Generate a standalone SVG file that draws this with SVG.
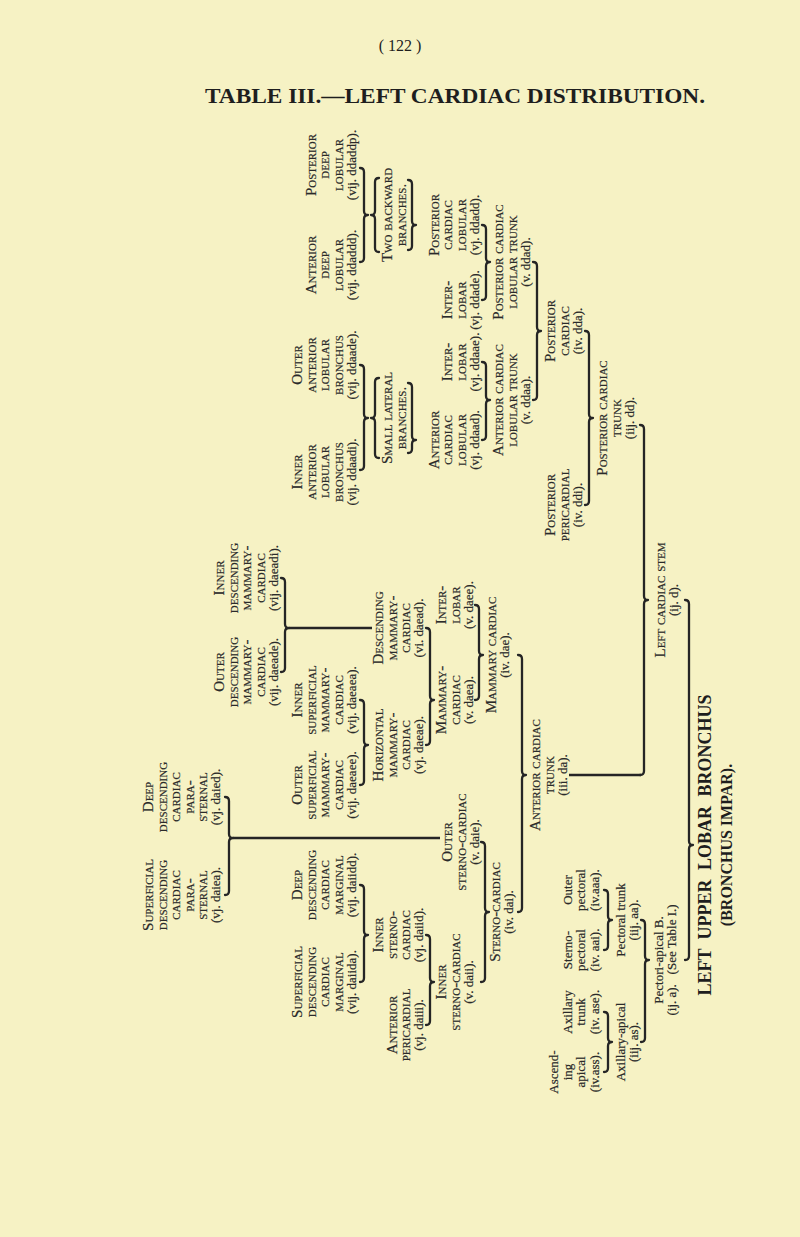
<svg xmlns="http://www.w3.org/2000/svg" width="800" height="1237" viewBox="0 0 800 1237">
<style>
.bg{fill:#f6f2c4}
.t{font-family:"Liberation Serif","Times New Roman",serif;font-size:13px;fill:#2a2a2a;stroke:#2a2a2a;stroke-width:0.2;text-anchor:middle;dominant-baseline:central}
.sc{font-variant:small-caps;font-size:15px}
.br{fill:none;stroke:#252525;stroke-width:2.3;stroke-linecap:round;stroke-linejoin:round}
.ln{fill:none;stroke:#252525;stroke-width:2.6}
.hd{font-family:"Liberation Serif","Times New Roman",serif;font-weight:bold;fill:#1e1e1e;text-anchor:middle}
.pg{font-family:"Liberation Serif","Times New Roman",serif;font-size:16px;fill:#1e1e1e;text-anchor:middle}
</style>
<rect class="bg" x="0" y="0" width="800" height="1237"/>
<text class="pg" x="400" y="51">( 122 )</text>
<text class="hd" x="455" y="103" font-size="21" textLength="500" lengthAdjust="spacingAndGlyphs">TABLE III.—LEFT CARDIAC DISTRIBUTION.</text>

<g id="connectors">
<path class="br" d="M360,168 Q364,168 364,172 L364,211 Q364,215 368,215 Q364,215 364,219 L364,258 Q364,262 360,262"/>
<path class="br" d="M379,178 Q375,178 375,182 L375,211 Q375,215 371,215 Q375,215 375,219 L375,248 Q375,252 379,252"/>
<path class="br" d="M408,180 Q412,180 412,184 L412,221 Q412,225 416,225 Q412,225 412,229 L412,246 Q412,250 408,250"/>
<path class="br" d="M360,365 Q364,365 364,369 L364,414 Q364,418 368,418 Q364,418 364,422 L364,466 Q364,470 360,470"/>
<path class="br" d="M379,378 Q375,378 375,382 L375,414 Q375,418 371,418 Q375,418 375,422 L375,454 Q375,458 379,458"/>
<path class="br" d="M408,383 Q412,383 412,387 L412,436 Q412,440 416,440 Q412,440 412,444 L412,449 Q412,453 408,453"/>
<path class="br" d="M482,225 Q486,225 486,229 L486,258 Q486,262 490,262 Q486,262 486,266 L486,296 Q486,300 482,300"/>
<path class="br" d="M482,362 Q486,362 486,366 L486,396 Q486,400 490,400 Q486,400 486,404 L486,436 Q486,440 482,440"/>
<path class="br" d="M533,262 Q537,262 537,266 L537,327 Q537,331 541,331 Q537,331 537,335 L537,396 Q537,400 533,400"/>
<path class="br" d="M585,331 Q589,331 589,335 L589,414 Q589,418 593,418 Q589,418 589,422 L589,501 Q589,505 585,505"/>
<path class="br" d="M640,425 Q644,425 644,429 L644,596 Q644,600 648,600 Q644,600 644,604 L644,771 Q644,775 640,775"/>
<path class="ln" d="M569,775 L641,775"/>
<path class="br" d="M281,578 Q285,578 285,582 L285,624 Q285,628 289,628 Q285,628 285,632 L285,668 Q285,672 281,672"/>
<path class="ln" d="M289,628 L372,628"/>
<path class="br" d="M360,700 Q364,700 364,704 L364,741 Q364,745 368,745 Q364,745 364,749 L364,781 Q364,785 360,785"/>
<path class="br" d="M426,628 Q430,628 430,632 L430,696 Q430,700 434,700 Q430,700 430,704 L430,741 Q430,745 426,745"/>
<path class="br" d="M475,605 Q479,605 479,609 L479,651 Q479,655 483,655 Q479,655 479,659 L479,696 Q479,700 475,700"/>
<path class="br" d="M225,797 Q229,797 229,801 L229,834 Q229,838 233,838 Q229,838 229,842 L229,891 Q229,895 225,895"/>
<path class="ln" d="M233,838 L440,838"/>
<path class="br" d="M360,885 Q364,885 364,889 L364,931 Q364,935 368,935 Q364,935 364,939 L364,978 Q364,982 360,982"/>
<path class="br" d="M426,935 Q430,935 430,939 L430,978 Q430,982 434,982 Q430,982 430,986 L430,1021 Q430,1025 426,1025"/>
<path class="br" d="M481,842 Q485,842 485,846 L485,908 Q485,912 489,912 Q485,912 485,916 L485,978 Q485,982 481,982"/>
<path class="br" d="M518,655 Q522,655 522,659 L522,771 Q522,775 526,775 Q522,775 522,779 L522,908 Q522,912 518,912"/>
<path class="br" d="M604,890 Q608,890 608,894 L608,916 Q608,920 612,920 Q608,920 608,924 L608,946 Q608,950 604,950"/>
<path class="br" d="M604,1012 Q608,1012 608,1016 L608,1038 Q608,1042 612,1042 Q608,1042 608,1046 L608,1068 Q608,1072 604,1072"/>
<path class="br" d="M641,920 Q645,920 645,924 L645,956 Q645,960 649,960 Q645,960 645,964 L645,1038 Q645,1042 641,1042"/>
<path class="br" d="M685,600 Q689,600 689,604 L689,841 Q689,845 693,845 Q689,845 689,849 L689,956 Q689,960 685,960"/>
</g>

<g id="n_pdeep">
<text class="t sc" transform="translate(310.5,165) rotate(-90)">Posterior</text>
<text class="t sc" transform="translate(324,165) rotate(-90)">deep</text>
<text class="t sc" transform="translate(337.5,165) rotate(-90)">lobular</text>
<text class="t" transform="translate(351,165) rotate(-90)">(vij. ddaddp).</text>
</g>
<g id="n_adeep">
<text class="t sc" transform="translate(310.5,265) rotate(-90)">Anterior</text>
<text class="t sc" transform="translate(324,265) rotate(-90)">deep</text>
<text class="t sc" transform="translate(337.5,265) rotate(-90)">lobular</text>
<text class="t" transform="translate(351,265) rotate(-90)">(vij. ddaddd).</text>
</g>
<g id="n_outer_alb">
<text class="t sc" transform="translate(297,365) rotate(-90)">Outer</text>
<text class="t sc" transform="translate(310.5,365) rotate(-90)">anterior</text>
<text class="t sc" transform="translate(324,365) rotate(-90)">lobular</text>
<text class="t sc" transform="translate(337.5,365) rotate(-90)">bronchus</text>
<text class="t" transform="translate(351,365) rotate(-90)">(vij. ddaade).</text>
</g>
<g id="n_inner_alb">
<text class="t sc" transform="translate(297,472) rotate(-90)">Inner</text>
<text class="t sc" transform="translate(310.5,472) rotate(-90)">anterior</text>
<text class="t sc" transform="translate(324,472) rotate(-90)">lobular</text>
<text class="t sc" transform="translate(337.5,472) rotate(-90)">bronchus</text>
<text class="t" transform="translate(351,472) rotate(-90)">(vij. ddaadi).</text>
</g>
<g id="n_twoback">
<text class="t sc" transform="translate(387,215) rotate(-90)">Two backward</text>
<text class="t sc" transform="translate(400.5,215) rotate(-90)">branches.</text>
</g>
<g id="n_smalllat">
<text class="t sc" transform="translate(387,418) rotate(-90)">Small lateral</text>
<text class="t sc" transform="translate(400.5,418) rotate(-90)">branches.</text>
</g>
<g id="n_ddadd">
<text class="t sc" transform="translate(433.5,225) rotate(-90)">Posterior</text>
<text class="t sc" transform="translate(447,225) rotate(-90)">cardiac</text>
<text class="t sc" transform="translate(460.5,225) rotate(-90)">lobular</text>
<text class="t" transform="translate(474,225) rotate(-90)">(vj. ddadd).</text>
</g>
<g id="n_ddade">
<text class="t sc" transform="translate(447,300) rotate(-90)">Inter-</text>
<text class="t sc" transform="translate(460.5,300) rotate(-90)">lobar</text>
<text class="t" transform="translate(474,300) rotate(-90)">(vj. ddade).</text>
</g>
<g id="n_ddaae">
<text class="t sc" transform="translate(447,362) rotate(-90)">Inter-</text>
<text class="t sc" transform="translate(460.5,362) rotate(-90)">lobar</text>
<text class="t" transform="translate(474,362) rotate(-90)">(vj. ddaae).</text>
</g>
<g id="n_ddaad">
<text class="t sc" transform="translate(433.5,440) rotate(-90)">Anterior</text>
<text class="t sc" transform="translate(447,440) rotate(-90)">cardiac</text>
<text class="t sc" transform="translate(460.5,440) rotate(-90)">lobular</text>
<text class="t" transform="translate(474,440) rotate(-90)">(vj. ddaad).</text>
</g>
<g id="n_ddad">
<text class="t sc" transform="translate(498,262) rotate(-90)">Posterior cardiac</text>
<text class="t sc" transform="translate(511.5,262) rotate(-90)">lobular trunk</text>
<text class="t" transform="translate(525,262) rotate(-90)">(v. ddad).</text>
</g>
<g id="n_ddaa">
<text class="t sc" transform="translate(498,400) rotate(-90)">Anterior cardiac</text>
<text class="t sc" transform="translate(511.5,400) rotate(-90)">lobular trunk</text>
<text class="t" transform="translate(525,400) rotate(-90)">(v. ddaa).</text>
</g>
<g id="n_dda">
<text class="t sc" transform="translate(550,331) rotate(-90)">Posterior</text>
<text class="t sc" transform="translate(563.5,331) rotate(-90)">cardiac</text>
<text class="t" transform="translate(577,331) rotate(-90)">(iv. dda).</text>
</g>
<g id="n_ddi">
<text class="t sc" transform="translate(550,505) rotate(-90)">Posterior</text>
<text class="t sc" transform="translate(563.5,505) rotate(-90)">pericardial</text>
<text class="t" transform="translate(577,505) rotate(-90)">(iv. ddi).</text>
</g>
<g id="n_dd">
<text class="t sc" transform="translate(602,418) rotate(-90)">Posterior cardiac</text>
<text class="t sc" transform="translate(615.5,418) rotate(-90)">trunk</text>
<text class="t" transform="translate(629,418) rotate(-90)">(iij. dd).</text>
</g>
<g id="n_dstem">
<text class="t sc" transform="translate(660,600) rotate(-90)">Left cardiac stem</text>
<text class="t" transform="translate(673.5,600) rotate(-90)">(ij. d).</text>
</g>

<g id="n_inner_desc">
<text class="t sc" transform="translate(219,578) rotate(-90)">Inner</text>
<text class="t sc" transform="translate(232.5,578) rotate(-90)">descending</text>
<text class="t sc" transform="translate(246,578) rotate(-90)">mammary-</text>
<text class="t sc" transform="translate(259.5,578) rotate(-90)">cardiac</text>
<text class="t" transform="translate(273,578) rotate(-90)">(vij. daeadi).</text>
</g>
<g id="n_outer_desc">
<text class="t sc" transform="translate(219,672) rotate(-90)">Outer</text>
<text class="t sc" transform="translate(232.5,672) rotate(-90)">descending</text>
<text class="t sc" transform="translate(246,672) rotate(-90)">mammary-</text>
<text class="t sc" transform="translate(259.5,672) rotate(-90)">cardiac</text>
<text class="t" transform="translate(273,672) rotate(-90)">(vij. daeade).</text>
</g>
<g id="n_desc_mc">
<text class="t sc" transform="translate(378,628) rotate(-90)">Descending</text>
<text class="t sc" transform="translate(391.5,628) rotate(-90)">mammary-</text>
<text class="t sc" transform="translate(405,628) rotate(-90)">cardiac</text>
<text class="t" transform="translate(418.5,628) rotate(-90)">(vi. daead).</text>
</g>
<g id="n_inner_sup">
<text class="t sc" transform="translate(297,700) rotate(-90)">Inner</text>
<text class="t sc" transform="translate(310.5,700) rotate(-90)">superficial</text>
<text class="t sc" transform="translate(324,700) rotate(-90)">mammary-</text>
<text class="t sc" transform="translate(337.5,700) rotate(-90)">cardiac</text>
<text class="t" transform="translate(351,700) rotate(-90)">(vij. daeaea).</text>
</g>
<g id="n_outer_sup">
<text class="t sc" transform="translate(297,785) rotate(-90)">Outer</text>
<text class="t sc" transform="translate(310.5,785) rotate(-90)">superficial</text>
<text class="t sc" transform="translate(324,785) rotate(-90)">mammary-</text>
<text class="t sc" transform="translate(337.5,785) rotate(-90)">cardiac</text>
<text class="t" transform="translate(351,785) rotate(-90)">(vij. daeaee).</text>
</g>
<g id="n_horiz">
<text class="t sc" transform="translate(378,745) rotate(-90)">Horizontal</text>
<text class="t sc" transform="translate(391.5,745) rotate(-90)">mammary-</text>
<text class="t sc" transform="translate(405,745) rotate(-90)">cardiac</text>
<text class="t" transform="translate(418.5,745) rotate(-90)">(vj. daeae).</text>
</g>
<g id="n_daea">
<text class="t sc" transform="translate(441,700) rotate(-90)">Mammary-</text>
<text class="t sc" transform="translate(454.5,700) rotate(-90)">cardiac</text>
<text class="t" transform="translate(468,700) rotate(-90)">(v. daea).</text>
</g>
<g id="n_daee">
<text class="t sc" transform="translate(441,605) rotate(-90)">Inter-</text>
<text class="t sc" transform="translate(454.5,605) rotate(-90)">lobar</text>
<text class="t" transform="translate(468,605) rotate(-90)">(v. daee).</text>
</g>
<g id="n_dae">
<text class="t sc" transform="translate(491,655) rotate(-90)">Mammary cardiac</text>
<text class="t" transform="translate(504.5,655) rotate(-90)">(iv. dae).</text>
</g>
<g id="n_deep_para">
<text class="t sc" transform="translate(148,797) rotate(-90)">Deep</text>
<text class="t sc" transform="translate(161.5,797) rotate(-90)">descending</text>
<text class="t sc" transform="translate(175,797) rotate(-90)">cardiac</text>
<text class="t sc" transform="translate(188.5,797) rotate(-90)">para-</text>
<text class="t sc" transform="translate(202,797) rotate(-90)">sternal</text>
<text class="t" transform="translate(215.5,797) rotate(-90)">(vj. daied).</text>
</g>
<g id="n_sup_para">
<text class="t sc" transform="translate(148,895) rotate(-90)">Superficial</text>
<text class="t sc" transform="translate(161.5,895) rotate(-90)">descending</text>
<text class="t sc" transform="translate(175,895) rotate(-90)">cardiac</text>
<text class="t sc" transform="translate(188.5,895) rotate(-90)">para-</text>
<text class="t sc" transform="translate(202,895) rotate(-90)">sternal</text>
<text class="t" transform="translate(215.5,895) rotate(-90)">(vj. daiea).</text>
</g>
<g id="n_daie">
<text class="t sc" transform="translate(447,842) rotate(-90)">Outer</text>
<text class="t sc" transform="translate(460.5,842) rotate(-90)">sterno-cardiac</text>
<text class="t" transform="translate(474,842) rotate(-90)">(v. daie).</text>
</g>
<g id="n_deep_marg">
<text class="t sc" transform="translate(297,885) rotate(-90)">Deep</text>
<text class="t sc" transform="translate(310.5,885) rotate(-90)">descending</text>
<text class="t sc" transform="translate(324,885) rotate(-90)">cardiac</text>
<text class="t sc" transform="translate(337.5,885) rotate(-90)">marginal</text>
<text class="t" transform="translate(351,885) rotate(-90)">(vij. daiidd).</text>
</g>
<g id="n_sup_marg">
<text class="t sc" transform="translate(297,982) rotate(-90)">Superficial</text>
<text class="t sc" transform="translate(310.5,982) rotate(-90)">descending</text>
<text class="t sc" transform="translate(324,982) rotate(-90)">cardiac</text>
<text class="t sc" transform="translate(337.5,982) rotate(-90)">marginal</text>
<text class="t" transform="translate(351,982) rotate(-90)">(vij. daiida).</text>
</g>
<g id="n_daiid">
<text class="t sc" transform="translate(378,935) rotate(-90)">Inner</text>
<text class="t sc" transform="translate(391.5,935) rotate(-90)">sterno-</text>
<text class="t sc" transform="translate(405,935) rotate(-90)">cardiac</text>
<text class="t" transform="translate(418.5,935) rotate(-90)">(vj. daiid).</text>
</g>
<g id="n_daiii">
<text class="t sc" transform="translate(391.5,1025) rotate(-90)">Anterior</text>
<text class="t sc" transform="translate(405,1025) rotate(-90)">pericardial</text>
<text class="t" transform="translate(418.5,1025) rotate(-90)">(vj. daiii).</text>
</g>
<g id="n_daii">
<text class="t sc" transform="translate(441,982) rotate(-90)">Inner</text>
<text class="t sc" transform="translate(454.5,982) rotate(-90)">sterno-cardiac</text>
<text class="t" transform="translate(468,982) rotate(-90)">(v. daii).</text>
</g>
<g id="n_dai">
<text class="t sc" transform="translate(495,912) rotate(-90)">Sterno-cardiac</text>
<text class="t" transform="translate(508.5,912) rotate(-90)">(iv. dai).</text>
</g>
<g id="n_da">
<text class="t sc" transform="translate(535,775) rotate(-90)">Anterior cardiac</text>
<text class="t sc" transform="translate(548.5,775) rotate(-90)">trunk</text>
<text class="t" transform="translate(562,775) rotate(-90)">(iii. da).</text>
</g>

<g id="n_outer_pect">
<text class="t" transform="translate(567,890) rotate(-90)">Outer</text>
<text class="t" transform="translate(580.5,890) rotate(-90)">pectoral</text>
<text class="t" transform="translate(594,890) rotate(-90)">(iv.aaa).</text>
</g>
<g id="n_sterno_pect">
<text class="t" transform="translate(567,950) rotate(-90)">Sterno-</text>
<text class="t" transform="translate(580.5,950) rotate(-90)">pectoral</text>
<text class="t" transform="translate(594,950) rotate(-90)">(iv. aai).</text>
</g>
<g id="n_ax_trunk">
<text class="t" transform="translate(567,1012) rotate(-90)">Axillary</text>
<text class="t" transform="translate(580.5,1012) rotate(-90)">trunk</text>
<text class="t" transform="translate(594,1012) rotate(-90)">(iv. ase).</text>
</g>
<g id="n_ascend">
<text class="t" transform="translate(553.5,1072) rotate(-90)">Ascend-</text>
<text class="t" transform="translate(567,1072) rotate(-90)">ing</text>
<text class="t" transform="translate(580.5,1072) rotate(-90)">apical</text>
<text class="t" transform="translate(594,1072) rotate(-90)">(iv.ass).</text>
</g>
<g id="n_pect_trunk">
<text class="t" transform="translate(620,920) rotate(-90)">Pectoral trunk</text>
<text class="t" transform="translate(633.5,920) rotate(-90)">(iij. aa).</text>
</g>
<g id="n_ax_apical">
<text class="t" transform="translate(620,1042) rotate(-90)">Axillary-apical</text>
<text class="t" transform="translate(633.5,1042) rotate(-90)">(iij. as).</text>
</g>
<g id="n_pect_apical">
<text class="t" transform="translate(658,960) rotate(-90)">Pectori-apical B.</text>
<text class="t" transform="translate(671.5,960) rotate(-90)" xml:space="preserve">(ij. a).   (See Table I.)</text>
</g>
<g id="n_root">
<text class="hd" font-size="18" word-spacing="5" dominant-baseline="central" transform="translate(705,845) rotate(-90)">LEFT UPPER LOBAR BRONCHUS</text>
<text class="hd" font-size="16" dominant-baseline="central" transform="translate(726,845) rotate(-90)">(BRONCHUS IMPAR).</text>
</g>
</svg>
